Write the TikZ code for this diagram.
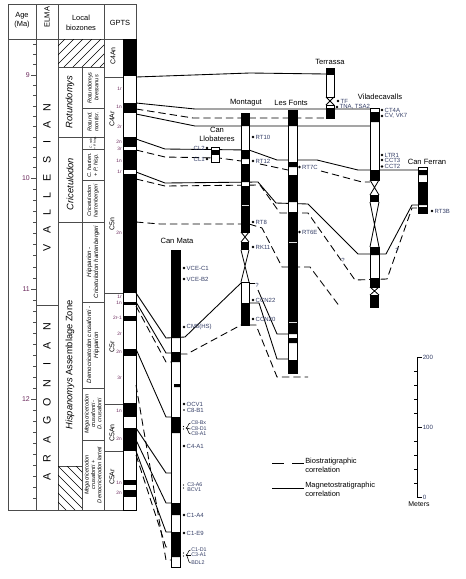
\documentclass[tikz,border=0pt]{standalone}
\usepackage{fontspec}
\setmainfont{Liberation Sans}
\definecolor{lab}{rgb}{0.2,0.24,0.4}
\definecolor{sub}{rgb}{0.42,0.16,0.36}
\definecolor{tl}{rgb}{0.3,0.3,0.3}
\newcommand\fsz[1]{\fontsize{#1}{#1}\selectfont}
\newcommand\fsb[2]{\fontsize{#1}{#2}\selectfont}
\newcommand\smpl[4]{\fill (#1,#2) circle (1.35); \node[smp] (#4) at ({#1+2.4},#2) {#3};}
\begin{document}
\begin{tikzpicture}[x=0.75pt,y=-0.75pt,
 mag/.style={line width=0.65pt},
 bio/.style={line width=0.65pt,dash pattern=on 5.5pt off 3pt},
 colw/.style={fill=white,draw=black,line width=0.6pt},
 hgl/.style={line width=0.6pt},
 tline/.style={draw=tl,line width=0.5pt},
 smp/.style={font=\fsz{4.5},text=lab,anchor=west,inner sep=0pt},
 secname/.style={font=\fsz{5.7},inner sep=0pt},
 chr/.style={font=\fsz{5.2},rotate=90,inner sep=0pt},
 sch/.style={font=\fsz{3.6},text=sub,anchor=east,inner sep=0pt},
 zone/.style={rotate=90,inner sep=0pt,align=center},
 elma/.style={font=\fsz{8},rotate=90,inner sep=0pt},
 hdr/.style={font=\fsz{5.6},inner sep=0pt},
 lgd/.style={font=\fsz{5.6},anchor=west,inner sep=0pt},
]
\useasboundingbox (0,0) rectangle (466,579);

% ---------- table ----------
\draw[tline] (8,4) rectangle (136,510);
\draw[tline] (8,39) -- (136,39);
\draw[tline] (36,4)--(36,510) (58,4)--(58,510) (104,4)--(104,510);
\draw[tline] (82,67)--(82,510);
\draw[tline] (58,67)--(104,67);
\draw[tline] (58,137)--(82,137) (58,222)--(82,222) (58,466)--(82,466);
\draw[tline] (82,108)--(104,108) (82,137)--(104,137) (82,149)--(104,149) (82,180)--(104,180) (82,222)--(104,222) (82,302)--(104,302) (82,388)--(104,388) (82,440)--(104,440);
\draw[tline] (36,305)--(58,305);
\draw[tline] (104,77)--(123,77) (104,293)--(123,293) (104,404)--(123,404) (104,451)--(123,451);

% hatching
\begin{scope}
\clip (58,39) rectangle (104,67);
\foreach \k in {-30,-21,...,105} \draw[line width=0.5pt] ({58+\k},67) -- ({86+\k},39);
\end{scope}
\begin{scope}
\clip (58,466) rectangle (82,510);
\foreach \k in {-45,-36,...,30} \draw[line width=0.5pt] ({58+\k},466) -- ({102+\k},510);
\end{scope}

% header
\node[hdr] (hage) at (22,16) {Age};
\node[hdr] (hma) at (22,25) {(Ma)};
\node[hdr,rotate=90] (helma) at (47,17) {ELMA};
\node[hdr] (hloc) at (81,18) {Local};
\node[hdr] (hbio) at (81,28) {biozones};
\node[hdr] (hgpts) at (120,23) {GPTS};

% age ticks
\foreach \i in {-3,...,9} \draw[tl,line width=0.45pt] (33,{75+\i*10.3}) -- (36,{75+\i*10.3});
\foreach \i in {1,...,9} \draw[tl,line width=0.45pt] (33,{178+\i*11.1}) -- (36,{178+\i*11.1});
\foreach \i in {1,...,19} \draw[tl,line width=0.45pt] (33,{289+\i*11}) -- (36,{289+\i*11});
\foreach \y in {75,178,289,399} \draw[tl,line width=0.5pt] (31,\y) -- (36,\y);
\node[font=\fsz{5.2},text=sub,anchor=east,inner sep=0pt] (a9) at (30,75) {9};
\node[font=\fsz{5.2},text=sub,anchor=east,inner sep=0pt] (a10) at (30,178) {10};
\node[font=\fsz{5.2},text=sub,anchor=east,inner sep=0pt] (a11) at (30,289) {11};
\node[font=\fsz{5.2},text=sub,anchor=east,inner sep=0pt] (a12) at (30,399) {12};

% ELMA
\foreach \l [count=\i from 0] in {V,A,L,L,E,S,I,A,N} \node[elma] (v\i) at (47,{248-\i*17.6}) {\l};
\foreach \l [count=\i from 0] in {A,R,A,G,O,N,I,A,N} \node[elma] (r\i) at (47,{477-\i*18.75}) {\l};

% biozones
\node[zone,font=\itshape\fsz{7}] (zrot) at (70,102) {Rotundomys};
\node[zone,font=\itshape\fsb{4.2}{4.9}] (zrb) at (93,88) {Rotundomys\\bressanus};
\node[zone,font=\itshape\fsb{4.2}{4.9}] (zrm) at (93,122) {Rotund.\\montisr.};
\node[zone,font=\itshape\fsz{7}] (zcri) at (70,184) {Cricetulodon};
\node[zone,font=\itshape\fsb{2.4}{2.9}] (zcs) at (93,143) {C. sab.\\+ P. hisp.};
\node[zone,font=\itshape\fsb{4.2}{4.9}] (zch) at (93,165) {C. harten.\\+ P. hisp.};
\node[zone,font=\itshape\fsb{4.1}{4.8}] (zchh) at (93,201) {Cricetulodon\\hartenbergeri};
\node[zone,font=\itshape\fsb{4.6}{5.3}] (zhip) at (93,262) {Hipparion -\\Cricetulodon hartenbergeri};
\node[zone,font=\itshape\fsb{4.6}{5.3}] (zdem) at (93,345) {Democricetodon crusafonti -\\Hipparion};
\node[zone,font=\itshape\fsb{4.2}{4.8}] (zmeg) at (93,414) {Megacricetodon\\crusafonti -\\D. crusafonti};
\node[zone,font=\itshape\fsb{4.2}{4.8}] (zmeg2) at (93,475) {Megacricetodon\\crusafonti +\\Democricetodon larteti};
\node[zone,font=\fsz{7}] (zhisp) at (70,365) {\textit{Hispanomys} Assemblage Zone};

% GPTS labels
\node[chr] (c4an) at (113,56) {C4An};
\node[chr] (c4ar) at (112,119) {C4Ar};
\node[chr] (c5n) at (112,224) {C5n};
\node[chr] (c5r) at (112,347) {C5r};
\node[chr] (c5an) at (112,433) {C5An};
\node[chr] (c5ar) at (112,477) {C5Ar};
\foreach \t/\y in {1r/89,1n/107,2r/127,2n/142,3r/149,1n/161,1r/172,2n/233,1r/297,1n/303,2r-1/318,2r/334,2n/352,3r/378,1n/411,2n/439,1n/483,2n/493}
  \node[sch] at (122,\y) {\t};

% GPTS bar
\fill[white] (123,39) rectangle (136,510);
\foreach \a/\b in {39/76,103/113,137/147,150/170,174/293,302/305,316/321,349/356,403/417,428/451,480/485,490/497} \fill (123,\a) rectangle (136,\b);
\draw[line width=0.6pt] (123,39) rectangle (136,510);

% ---------- correlation lines ----------
\draw[mag] (136,77) -- (250,73) -- (326,74);
\draw[mag] (136,103) -- (195,109) -- (370,109);
\draw[bio] (136,109) -- (193,118) -- (326,118);
\draw[mag] (136,114) -- (195,126) -- (370,126);
\draw[mag] (136,139) -- (165,149) -- (249,150) -- (277,160) -- (317,160) -- (358,170) -- (418,170);
\draw[bio] (136,150) -- (165,157) -- (219,158) -- (241,161);
\draw[bio] (260,164) -- (288,170);
\draw[bio] (321,171) -- (362,182) -- (370,182);
\draw[mag] (136,172) -- (165,183) -- (258,182) -- (276,203) -- (308,204) -- (358,254) -- (386,254) -- (412,205) -- (418,205);
\draw[bio] (136,179) -- (165,186) -- (260,185) -- (280,213) -- (308,213) -- (355,280) -- (387,279) -- (412,208) -- (418,208);
\draw[bio] (136,222) -- (160,224) -- (249,224) -- (262,228) -- (282,267) -- (310,267) -- (340,307);
\draw[mag] (136,293) -- (166,338) -- (185,337) -- (241,283);
\draw[mag] (136,302) -- (166,353) -- (171,353);
\draw[bio] (136,306) -- (166,362) -- (171,362);
\draw[bio] (180,354) -- (187,354) -- (241,325);
\draw[mag] (136,349) -- (166,417) -- (171,417);
\draw[mag] (136,428) -- (166,473) -- (171,473);
\draw[mag] (136,440) -- (166,503) -- (171,503);
\draw[mag] (136,451) -- (166,532) -- (171,532);
\draw[bio] (136,455) -- (166,547) -- (171,547);
\draw[bio] (136,385) -- (166,560) -- (171,560);
\draw[bio] (249,283) -- (255,283);
\draw[mag] (258,290) -- (277,334) -- (288,334);
\draw[mag] (249,303) -- (259,303) -- (277,359) -- (288,359);
\draw[bio] (249,325) -- (256,325) -- (277,377) -- (308,377);

% ---------- sections ----------
% Terrassa
\draw[colw] (326,68) rectangle (334,97); \fill (326,68) rectangle (334,75);
\draw[hgl] (326,97)--(334,105) (334,97)--(326,105);
\draw[colw] (326,105) rectangle (334,118); \fill (326,108) rectangle (334,118);
% Viladecavalls
\draw[colw] (370,108) rectangle (379,180); \fill (370,112) rectangle (379,122) (370,170) rectangle (379,180);
\draw[hgl] (370,180)--(379,195) (379,180)--(370,195);
\fill (370,195) rectangle (379,202);
\draw[hgl] (370,202)--(379,247) (379,202)--(370,247);
\draw[colw] (370,247) rectangle (379,287); \fill (370,247) rectangle (379,255) (370,278) rectangle (379,287);
\draw[hgl] (370,287)--(379,295) (379,287)--(370,295);
\fill (370,295) rectangle (379,308);
% Can Ferran
\draw[colw] (418,167) rectangle (427,213); \fill (418,170) rectangle (427,175) (418,182) rectangle (427,205) (418,207) rectangle (427,213);
% Montagut
\draw[colw] (241,113) rectangle (249,232);
\fill (241,113) rectangle (249,126) (241,150) rectangle (249,159) (241,164) rectangle (249,182) (241,186) rectangle (249,205) (241,206) rectangle (249,232);
\draw[hgl] (241,232)--(249,242) (249,232)--(241,242);
\fill (241,242) rectangle (249,250);
\draw[hgl] (241,250)--(249,282) (249,250)--(241,282);
\draw[colw] (241,282) rectangle (249,325); \fill (241,303) rectangle (249,325);
% Les Fonts
\draw[colw] (288,110) rectangle (297,373);
\fill (288,110) rectangle (297,126) (288,162) rectangle (297,167) (288,175) rectangle (297,202) (288,212) rectangle (297,242) (288,243) rectangle (297,322) (288,323) rectangle (297,334) (288,338) rectangle (297,343) (288,360) rectangle (297,373);
% Can Llobateres
\draw[colw] (211,147) rectangle (219,162); \fill (211,149.5) rectangle (219,155);
% Can Mata
\draw[colw] (171,250) rectangle (180,567);
\fill (171,250) rectangle (180,338) (171,352) rectangle (180,362) (174,384) rectangle (180,387) (171,417) rectangle (180,433) (171,503) rectangle (180,515) (171,532) rectangle (180,557);

% section names
\node[secname] (nter) at (330,62) {Terrassa};
\node[secname] (nvil) at (380,97) {Viladecavalls};
\node[secname] (nmon) at (246,103) {Montagut};
\node[secname] (nfon) at (291,103) {Les Fonts};
\node[secname] (ncl1) at (217,130) {Can};
\node[secname] (ncl2) at (217,138.5) {Llobateres};
\node[secname] (nfer) at (427,162) {Can Ferran};
\node[secname] (nmat) at (177,241) {Can Mata};

% samples
\smpl{338}{101}{TF}{stf}
\smpl{337}{107}{TNA, TSA2}{stna}
\smpl{382}{110}{CT4A}{sct4a}
\smpl{382}{116}{CV, VK7}{scv}
\smpl{382}{155}{LTR1}{sltr}
\smpl{382}{160}{CCT3}{scct3}
\smpl{382}{166.5}{CCT2}{scct2}
\smpl{432}{211}{RT3B}{srt3b}
\smpl{253}{137}{RT10}{srt10}
\smpl{253}{161}{RT12}{srt12}
\smpl{253}{222}{RT8}{srt8}
\smpl{253}{247}{RK11}{srk11}
\smpl{253}{300}{CCN22}{sccn22}
\smpl{253}{319}{CCN20}{sccn20}
\smpl{299.5}{167}{RT7C}{srt7c}
\smpl{299.5}{232}{RT6E}{srt6e}
\fill (207,148) circle (1.35); \node[smp,anchor=east] (scl2) at (205,148) {CL2};
\fill (207,159) circle (1.35); \node[smp,anchor=east] (scl1) at (205,159) {CL1};
\smpl{184}{268}{VCE-C1}{svc1}
\smpl{184}{279}{VCE-B2}{svb2}
\smpl{184}{327}{CM3(HS)}{scm3}
\smpl{184}{404}{OCV1}{socv}
\fill (184,410) circle (0.8); \node[smp] (sc8b1) at (186.5,410) {C8-B1};
\fill (183.5,426.5) circle (0.6) (183.5,429) circle (0.6);
\draw[line width=0.4pt] (186,428) .. controls (188,428) and (188,423) .. (190.5,423);
\draw[line width=0.4pt] (186,428) .. controls (188,428) and (188,429) .. (190.5,429);
\draw[line width=0.4pt] (186,428) .. controls (188,428) and (188,434) .. (190.5,434);
\node[smp,font=\fsz{4}] (sc8bx) at (191,423) {C8-Bx};
\node[smp,font=\fsz{4}] (sc8d1) at (191,429) {C8-D1};
\node[smp,font=\fsz{4}] (sc8a1) at (191,434) {C8-A1};
\smpl{184}{446}{C4-A1}{sc4a1}
\fill (183.5,485) circle (0.6) (183.5,488) circle (0.6);
\node[smp,font=\fsz{4}] (sc3a6) at (187,485) {C3-A6};
\node[smp,font=\fsz{4}] (sbcv) at (187,490) {BCV1};
\smpl{184}{515}{C1-A4}{sc1a4}
\smpl{184}{533}{C1-E9}{sc1e9}
\fill (183.5,553) circle (0.6) (183.5,556) circle (0.6);
\draw[line width=0.4pt] (186,555) .. controls (188,555) and (188,550) .. (190.5,550);
\draw[line width=0.4pt] (186,555) .. controls (188,555) and (188,555) .. (190.5,555);
\draw[line width=0.4pt] (186,555) .. controls (188,555) and (188,563) .. (190.5,563);
\node[smp,font=\fsz{4}] (sc1d1) at (191,550) {C1-D1};
\node[smp,font=\fsz{4}] (sc3a1) at (191,555) {C3-A1};
\node[smp,font=\fsz{4}] (sbdl) at (191,563) {BDL2};
\node[smp,anchor=center] (q1) at (257,285) {?};
\node[smp,anchor=center] (q2) at (343,260) {?};
\node[smp,anchor=center] (q3) at (397,250) {?};

% legend
\coordinate (lb1) at (272,463); \coordinate (lb2) at (304,463);
\draw[line width=0.65pt,dash pattern=on 9pt off 6pt] (lb1) -- (lb2);
\coordinate (lm1) at (272,488); \coordinate (lm2) at (304,488);
\draw[mag] (lm1) -- (lm2);
\node[lgd] (lgb1) at (305,461.5) {Biostratigraphic};
\node[lgd] (lgb2) at (305,470) {correlation};
\node[lgd] (lgm1) at (305,485.5) {Magnetostratigraphic};
\node[lgd] (lgm2) at (305,494) {correlation};

% scale bar
\draw[line width=0.55pt] (417,357) -- (417,497);
\foreach \y in {357,427,497} \draw[line width=0.55pt] (417,\y) -- (422,\y);
\foreach \y in {371,385,399,413,441,455,469,483} \draw[line width=0.5pt] (414,\y) -- (417,\y);
\node[smp,text=lab,font=\fsz{4.6}] (s200) at (422.5,357) {200};
\node[smp,text=lab,font=\fsz{4.6}] (s100) at (422.5,427) {100};
\node[smp,text=lab,font=\fsz{4.6}] (s0) at (422.5,497) {0};
\node[font=\fsz{5.2},inner sep=0pt] (smet) at (419,504) {Meters};
\end{tikzpicture}
\end{document}
